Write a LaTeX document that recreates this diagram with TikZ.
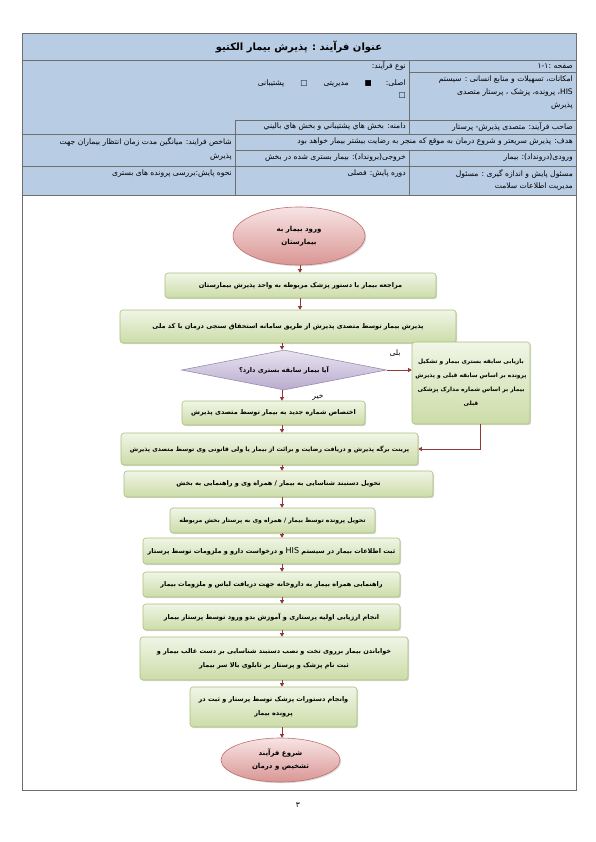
\documentclass[tikz,border=0pt]{standalone}
\usepackage{fontspec}
\newfontfamily\arabicfont[Script=Arabic]{DejaVu Sans}
\TeXXeTstate=1
\usetikzlibrary{shapes.geometric,shadows,arrows.meta}
\definecolor{headbg}{HTML}{B8CCE4}
\definecolor{rulegray}{HTML}{6E6E6E}
\definecolor{boxedge}{HTML}{A9C07A}
\definecolor{boxtop}{HTML}{F0F5E6}
\definecolor{boxbot}{HTML}{CCDCA8}
\definecolor{capedge}{HTML}{C0706E}
\definecolor{captop}{HTML}{F7E4E4}
\definecolor{capbot}{HTML}{D99694}
\definecolor{qedge}{HTML}{9A8CB0}
\definecolor{qtop}{HTML}{E8E3F0}
\definecolor{qbot}{HTML}{B9ABCE}
\definecolor{linkred}{HTML}{953735}
\newcommand{\fa}[1]{\beginR #1\endR}
\newcommand{\flowfont}{\arabicfont\bfseries\fontsize{6.5}{11}\selectfont}
\newcommand{\smallflow}{\arabicfont\bfseries\fontsize{6.1}{11}\selectfont}
\newcommand{\capfont}{\arabicfont\bfseries\fontsize{7}{13}\selectfont}
\newcommand{\cellfont}{\arabicfont\fontsize{7.6}{8}\selectfont}
\tikzset{
  stepbox/.style={draw=boxedge,line width=.6pt,rounded corners=3pt,top color=boxtop,bottom color=boxbot,
    drop shadow={opacity=.3,shadow xshift=1.2pt,shadow yshift=-1.2pt},align=center,inner sep=2pt,font=\flowfont},
  endcap/.style={ellipse,draw=capedge,line width=.6pt,top color=captop,bottom color=capbot,
    drop shadow={opacity=.3,shadow xshift=1.2pt,shadow yshift=-1.2pt},align=center,inner sep=1pt,font=\capfont},
  query/.style={diamond,aspect=5,draw=qedge,line width=.6pt,top color=qtop,bottom color=qbot,inner sep=1pt,font=\flowfont},
  link/.style={-{Triangle[length=3.5pt,width=4pt]},draw=linkred,line width=.9pt},
  cell/.style={anchor=east,inner sep=0pt,font=\cellfont},
  rule/.style={draw=rulegray,line width=.6pt}
}
\begin{document}
\begin{tikzpicture}[x=1pt,y=-1pt]
\useasboundingbox[fill=white] (0,0) rectangle (595,842);
% header table
\fill[headbg] (22,33) rectangle (576,195);
\draw[rule] (22,33) rectangle (576,790);
\draw[rule] (22,60)--(576,60);
\draw[rule] (409,72)--(576,72);
\draw[rule] (235,120)--(576,120);
\draw[rule] (22,134)--(576,134);
\draw[rule] (235,150)--(576,150);
\draw[rule] (22,166)--(576,166);
\draw[rule] (22,195)--(576,195);
\draw[rule] (409,60)--(409,134);
\draw[rule] (409,150)--(409,195);
\draw[rule] (235,120)--(235,195);
\node[font=\arabicfont\bfseries\fontsize{10}{12}\selectfont] (title) at (299,47) {\fa{عنوان فرآیند : پذیرش بیمار الکتیو}};
\node[cell] (page) at (573,66) {\fa{صفحه :۱-۱}};
\node[cell] (res1) at (573,80) {\fa{امکانات، تسهیلات و منابع انسانی : سیستم}};
\node[cell] (res2) at (573,93) {\fa{\beginL HIS\endL{}، پرونده، پزشک ، پرستار متصدی}};
\node[cell] (res3) at (573,106) {\fa{پذیرش}};
\node[cell] (owner) at (573,127) {\fa{صاحب فرآیند: متصدی پذیرش- پرستار}};
\node[cell] (goal) at (573,142) {\fa{هدف: پذیرش سریعتر و شروع درمان به موقع که منجر به رضایت بیشتر بیمار خواهد بود}};
\node[cell] (input) at (573,158) {\fa{ورودی(درونداد): بیمار}};
\node[cell] (resp1) at (573,174) {\fa{مسئول پایش و اندازه گیری : مسئول}};
\node[cell] (resp2) at (573,187) {\fa{مدیریت اطلاعات سلامت}};
\node[cell] (kind) at (406,66) {\fa{نوع فرآیند:}};
\node[cell] (kinds) at (406,84) {\fa{اصلی:\hspace{14pt}■\hspace{16pt}مدیریتی\hspace{16pt}□\hspace{16pt}پشتیبانی}};
\node[cell] (kindbox) at (406,96) {□};
\node[cell] (scope) at (406,127) {\fa{دامنه: بخش هاي پشتيباني و بخش هاي باليني}};
\node[cell] (output) at (406,158) {\fa{خروجی(برونداد): بیمار بستری شده در بخش}};
\node[cell] (period) at (406,174) {\fa{دوره پایش: فصلی}};
\node[cell] (kpi1) at (232,142) {\fa{شاخص فرایند: میانگین مدت زمان انتظار بیماران جهت}};
\node[cell] (kpi2) at (232,157) {\fa{پذیرش}};
\node[cell] (method) at (232,174) {\fa{نحوه پایش:بررسی پرونده های بستری}};
% flow chart
\coordinate (topaxis) at (300,0);
\coordinate (axis) at (282,0);
\node[endcap,minimum width=132,minimum height=58] (entry) at (299,236) {\fa{ورود بیمار به}\\\fa{بیمارستان}};
\node[stepbox,minimum width=271,minimum height=25] (regdesk) at (300.5,285.5) {\fa{مراجعه بیمار با دستور پزشک مربوطه به واحد پذیرش بیمارستان}};
\node[stepbox,minimum width=336,minimum height=33] (reception) at (288,326.5) {\fa{پذیرش بیمار توسط متصدی پذیرش از طریق سامانه استحقاق سنجی درمان با کد ملی}};
\node[query,minimum width=205,minimum height=40] (hasrec) at (284,370) {\fa{آیا بیمار سابقه بستری دارد؟}};
\node[stepbox,minimum width=118,minimum height=82,font=\arabicfont\bfseries\fontsize{5.9}{14}\selectfont] (retrieve) at (471,383) {\fa{بازیابی سابقه بستری بیمار و تشکیل}\\\fa{پرونده بر اساس سابقه قبلی و پذیرش}\\\fa{بیمار بر اساس شماره مدارک پزشکی}\\\fa{قبلی}};
\node[stepbox,minimum width=183,minimum height=24] (newnum) at (273.5,413) {\fa{اختصاص شماره جدید به بیمار توسط متصدی پذیرش}};
\node[stepbox,minimum width=297,minimum height=32,font=\smallflow] (consent) at (269.5,449) {\fa{پرینت برگه پذیرش و دریافت رضایت و برائت از بیمار یا ولی قانونی وی توسط متصدی پذیرش}};
\node[stepbox,minimum width=309,minimum height=26] (wristband) at (278.5,484) {\fa{تحویل دستبند شناسایی به بیمار / همراه وی و راهنمایی به بخش}};
\node[stepbox,minimum width=205,minimum height=25,font=\smallflow] (handover) at (272.5,520.5) {\fa{تحویل پرونده توسط بیمار / همراه وی به پرستار بخش مربوطه}};
\node[stepbox,minimum width=257,minimum height=26] (hisreg) at (271.5,551) {\fa{ثبت اطلاعات بیمار در سیستم {\normalfont\arabicfont\fontsize{8}{9}\selectfont HIS} و درخواست دارو و ملزومات توسط پرستار}};
\node[stepbox,minimum width=257,minimum height=25] (pharmacy) at (271.5,584.5) {\fa{راهنمایی همراه بیمار به داروخانه جهت دریافت لباس و ملزومات بیمار}};
\node[stepbox,minimum width=257,minimum height=26] (assess) at (271.5,617) {\fa{انجام ارزیابی اولیه پرستاری و آموزش بدو ورود توسط پرستار بیمار}};
\node[stepbox,minimum width=268,minimum height=43,font=\arabicfont\bfseries\fontsize{6.5}{14}\selectfont] (bed) at (274,658.5) {\fa{خواباندن بیمار برروی تخت و نصب دستبند شناسایی بر دست غالب بیمار و}\\\fa{ثبت نام پزشک و پرستار بر تابلوی بالا سر بیمار}};
\node[stepbox,minimum width=167,minimum height=40,font=\arabicfont\bfseries\fontsize{6.5}{14}\selectfont] (orders) at (273.5,707) {\fa{وانجام دستورات پزشک توسط پرستار و ثبت در}\\\fa{پرونده بیمار}};
\node[endcap,minimum width=119,minimum height=44] (treat) at (280.5,760) {\fa{شروع فرآیند}\\\fa{تشخیص و درمان}};
\node[font=\cellfont] (yes) at (395,353) {\fa{بلی}};
\node[font=\cellfont] (no) at (318,397) {\fa{خیر}};
\node[font=\arabicfont\fontsize{7.5}{9}\selectfont] (pageno) at (298,805) {۳};
\draw[link] (entry.south -| topaxis)--(regdesk.north -| topaxis);
\draw[link] (regdesk.south -| topaxis)--(reception.north -| topaxis);
\draw[link] (reception.south -| axis)--(hasrec.north -| axis);
\draw[link] (hasrec.east)--(hasrec.east -| retrieve.west);
\draw[link] (hasrec.south -| axis)--(newnum.north -| axis);
\draw[link] (newnum.south -| axis)--(consent.north -| axis);
\draw[link] ([xshift=9pt]retrieve.south) |- (consent.east);
\draw[link] (consent.south -| axis)--(wristband.north -| axis);
\draw[link] (wristband.south -| axis)--(handover.north -| axis);
\draw[link] (handover.south -| axis)--(hisreg.north -| axis);
\draw[link] (hisreg.south -| axis)--(pharmacy.north -| axis);
\draw[link] (pharmacy.south -| axis)--(assess.north -| axis);
\draw[link] (assess.south -| axis)--(bed.north -| axis);
\draw[link] (bed.south -| axis)--(orders.north -| axis);
\draw[link] (orders.south -| axis)--(treat.north -| axis);
\end{tikzpicture}
\end{document}
